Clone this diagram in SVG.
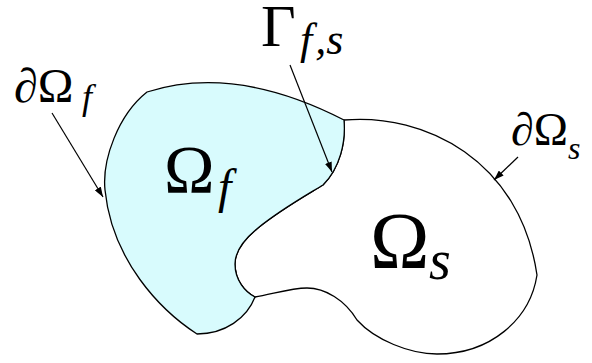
<svg xmlns="http://www.w3.org/2000/svg" width="592" height="363" viewBox="0 0 592 363">
<defs>
<style>
.dom{stroke:#000;stroke-width:1.3;stroke-linejoin:round}
.fluid{fill:#d8fbfd}
.solid{fill:#fff}
.lab{fill:#000;font-family:"Liberation Serif","DejaVu Serif",serif}
.it{font-style:italic}
.conn{stroke:#000;stroke-width:1.2;fill:none}
</style>
<marker id="ah" markerUnits="userSpaceOnUse" markerWidth="10" markerHeight="7" refX="10" refY="3.5" orient="auto">
<path d="M0,0 L10,3.5 L0,7 z" fill="#000"/>
</marker>
</defs>
<rect width="592" height="363" fill="#fff"/>
<g id="solid">
<path class="dom solid" d="M344,120 C425,113 520,160 537,275 C530,320 490,354 437,354 C410,354 375,340 357,320 C345,300 325,288 307,288 C290,288 270,295 255,297 C245,292 235,280 235,264 C235,252 242,241 258,228 C280,210 305,196 323,185 C340,168 346,142 344,120 Z"/>
<text class="lab" x="370" y="268" font-size="80">Ω<tspan class="it" x="429" y="279" font-size="56">s</tspan></text>
</g>
<g id="fluid">
<path class="dom fluid" d="M147,92 Q235,64 344,120 C346,142 340,168 323,185 C305,196 280,210 258,228 C242,241 235,252 235,264 C235,280 245,292 255,297 C247,318 225,334 197,334 C160,310 112,260 105,190 C102,160 118,115 147,92 Z"/>
<text class="lab" x="164" y="192" font-size="68">Ω<tspan class="it" x="218" y="203" font-size="48">f</tspan></text>
</g>
<g id="connectors">
<line class="conn" x1="52" y1="113" x2="103" y2="197" marker-end="url(#ah)"/>
<line class="conn" x1="290" y1="65" x2="332" y2="172" marker-end="url(#ah)"/>
<line class="conn" x1="518" y1="157" x2="494" y2="180" marker-end="url(#ah)"/>
</g>
<g id="label-boundary-f">
<text class="lab" x="14" y="102" font-size="48">∂Ω<tspan class="it" x="82" y="109" font-size="36">f</tspan></text>
</g>
<g id="label-interface">
<text class="lab" x="261" y="46" font-size="60">Γ<tspan class="it" x="300" y="54" font-size="44">f</tspan><tspan class="it" font-size="44" dx="3">,s</tspan></text>
</g>
<g id="label-boundary-s">
<text class="lab" x="511" y="145" font-size="46">∂Ω<tspan class="it" x="568" y="159" font-size="32">s</tspan></text>
</g>
</svg>
